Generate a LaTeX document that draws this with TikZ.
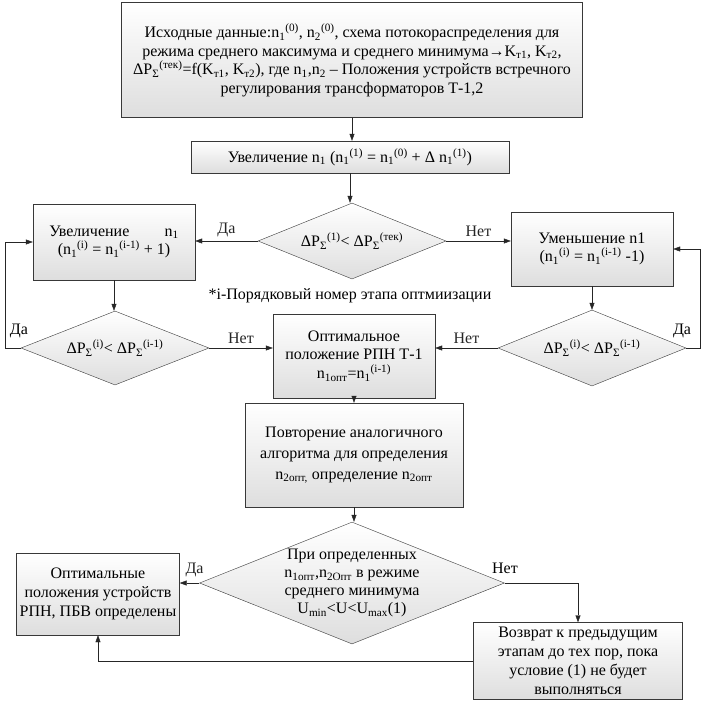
\documentclass[tikz,border=0pt]{standalone}
\usepackage{fontspec}
\setmainfont{Liberation Serif}
\usepackage{tikz}
\usetikzlibrary{shapes.geometric,arrows.meta}
\newcommand{\lo}[1]{\textsubscript{#1}}
\newcommand{\hi}[1]{\textsuperscript{#1}}

\begin{document}
\begin{tikzpicture}[x=1pt,y=-1pt,
  font=\fontsize{16}{18.5}\selectfont,
  blk/.style={rectangle,draw=black!78,top color=white,bottom color=black!13,align=center,inner sep=2pt},
  dmd/.style={diamond,draw=black!78,top color=white,bottom color=black!13,align=center,inner sep=0pt,aspect=2.5},
  arr/.style={-{Triangle[length=7pt,width=5pt]},black!85},
  lbl/.style={inner sep=1pt}]
\useasboundingbox (0,0) rectangle (706,702);
\node[blk,minimum width=461,minimum height=115] (start) at (352,60)
  {Исходные данные:n\lo{1}\hi{(0)}, n\lo{2}\hi{(0)}, схема потокораспределения для\\
   режима среднего максимума и среднего минимума→K\lo{т1}, K\lo{т2},\\
   ΔP\lo{Σ}\hi{(тек)}=f(K\lo{т1}, K\lo{т2}), где n\lo{1},n\lo{2} – Положения устройств встречного\\
   регулирования трансформаторов Т-1,2};
\node[blk,minimum width=318,minimum height=32] (incfirst) at (350,157)
  {Увеличение n\lo{1} (n\lo{1}\hi{(1)} = n\lo{1}\hi{(0)} + Δ n\lo{1}\hi{(1)})};
\node[dmd,minimum width=188,minimum height=76] (cmpfirst) at (352,241)
  {ΔP\lo{Σ}\hi{(1)}< ΔP\lo{Σ}\hi{(тек)}};
\node[blk,minimum width=162,minimum height=76] (inc) at (114,242)
  {Увеличение\hspace{2.2em}n\lo{1}\\(n\lo{1}\hi{(i)} = n\lo{1}\hi{(i-1)} + 1)};
\node[blk,minimum width=162,minimum height=74] (dec) at (592,249)
  {Уменьшение n1\\(n\lo{1}\hi{(i)} = n\lo{1}\hi{(i-1)} -1)};
\node (note) at (350,296) {*i-Порядковый номер этапа оптмиизации};
\node[dmd,minimum width=188,minimum height=74] (cmpinc) at (115,348)
  {ΔP\lo{Σ}\hi{(i)}< ΔP\lo{Σ}\hi{(i-1)}};
\node[blk,minimum width=162,minimum height=84] (opt) at (354,356)
  {Оптимальное\\положение РПН Т-1\\n\lo{1опт}=n\lo{1}\hi{(i-1)}};
\node[dmd,minimum width=188,minimum height=76] (cmpdec) at (592,348)
  {ΔP\lo{Σ}\hi{(i)}< ΔP\lo{Σ}\hi{(i-1)}};
\node[blk,minimum width=218,minimum height=104,font=\fontsize{16}{21}\selectfont] (repeat) at (354,455)
  {Повторение аналогичного\\алгоритма для определения\\n\lo{2опт,} определение n\lo{2опт}};
\node[dmd,minimum width=300,minimum height=120,font=\fontsize{16}{18}\selectfont] (check) at (352,583)
  {При определенных\\n\lo{1опт},n\lo{2Опт} в режиме\\среднего минимума\\U\lo{min}<U<U\lo{max}(1)};
\node[blk,minimum width=163,minimum height=82,font=\fontsize{16}{19}\selectfont] (final) at (98,594)
  {Оптимальные\\положения устройств\\РПН, ПБВ определены};
\node[blk,minimum width=209,minimum height=77,font=\fontsize{16}{19}\selectfont] (back) at (578,661)
  {Возврат к предыдущим\\этапам до тех пор, пока\\условие (1) не будет\\выполняться};
% vertical steps
\foreach \from/\to in {start/incfirst,incfirst/cmpfirst,inc/cmpinc,dec/cmpdec,opt/repeat,repeat/check}
  \draw[arr] (\from.south) -- (\from.south |- \to.north);
% branches
\draw[arr] (cmpfirst.west) -- node[lbl,above=3pt] (yesfirst) {Да} (cmpfirst.west -| inc.east);
\draw[arr] (cmpfirst.east) -- node[lbl,above=3pt] (nofirst) {Нет} (cmpfirst.east -| dec.west);
\draw[arr] (cmpinc.east) -- node[lbl,above=3pt] (noinc) {Нет} (cmpinc.east -| opt.west);
\draw[arr] (cmpdec.west) -- node[lbl,above=3pt] (nodec) {Нет} (cmpdec.west -| opt.east);
\draw[arr] (cmpinc.west) -- ++(-16,0) |- (inc.west);
\node[lbl] (yesinc) at (19,331) {Да};
\draw[arr] (cmpdec.east) -- ++(14,0) |- (dec.east);
\node[lbl] (yesdec) at (682,331) {Да};
\draw[arr] (check.west) -- node[lbl,above=5pt,xshift=5pt] (yescheck) {Да} (check.west -| final.east);
\draw[arr] (check.east) -| (back.north);
\node[lbl] (nocheck) at (505,568) {Нет};
\draw[arr] (back.west) -| (final.south);
\end{tikzpicture}
\end{document}
